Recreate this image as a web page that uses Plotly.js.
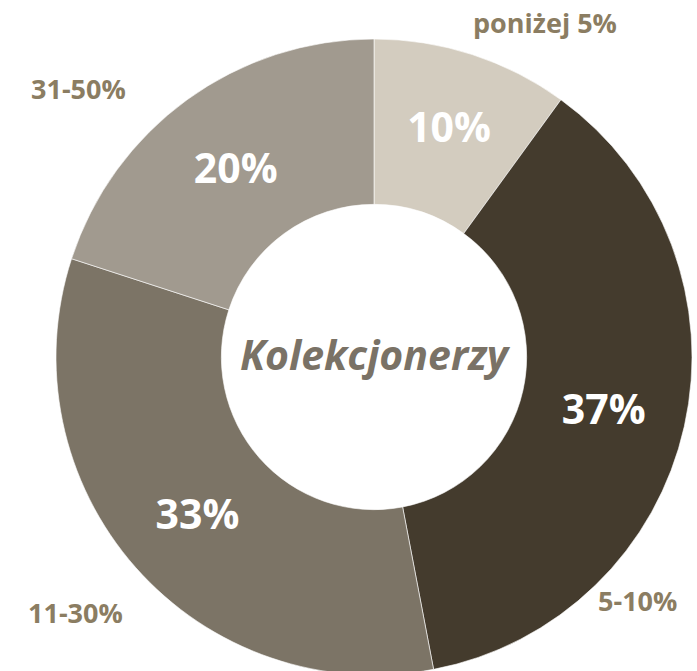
<!DOCTYPE html>
<html>
<head>
<meta charset="utf-8">
<script src="https://cdn.plot.ly/plotly-3.0.1.min.js"></script>
<style>
html, body { margin: 0; padding: 0; background: #fff; overflow: hidden; }
#chart { width: 697px; height: 690px; }
</style>
</head>
<body>
<div id="chart"></div>
<script>
// Data
var categories = ["poniżej 5%", "5-10%", "11-30%", "31-50%"];
var shares = [10, 37, 33, 20];
var sliceColors = ["#D3CCBF", "#443B2D", "#7C7466", "#A19A8F"];
var centerLabel = "Kolekcjonerzy";

// Layout positions for the outside category labels (paper coords)
var labelPos = [
  {x: 0.782, y: 0.968},
  {x: 0.914, y: 0.130},
  {x: 0.109, y: 0.113},
  {x: 0.112, y: 0.872}
];

var W = 697, H = 690;
var trace = {
  type: "pie",
  labels: categories,
  values: shares,
  sort: false,
  direction: "clockwise",
  rotation: 0,
  hole: 0.48,
  marker: { colors: sliceColors, line: { color: "rgba(255,255,255,0.6)", width: 1 } },
  texttemplate: "%{value}%",
  textposition: "inside",
  insidetextorientation: "horizontal",
  insidetextfont: { family: "Open Sans", size: 41, color: "#ffffff", weight: "bold" },
  title: {
    text: centerLabel,
    position: "middle center",
    font: { family: "Open Sans", size: 41, color: "#7A7266", weight: "bold", style: "italic" }
  },
  domain: { x: [56 / W, 692 / W], y: [(H - 675) / H, (H - 39) / H] },
  showlegend: false,
  hoverinfo: "label+value"
};

var annotations = categories.map(function (c, i) {
  return {
    text: c,
    xref: "paper", yref: "paper",
    x: labelPos[i].x, y: labelPos[i].y,
    xanchor: "center", yanchor: "middle",
    showarrow: false,
    font: { family: "Open Sans", size: 27, color: "#8B7D62", weight: "bold" }
  };
});

var layout = {
  width: W, height: H,
  margin: { l: 0, r: 0, t: 0, b: 0 },
  paper_bgcolor: "#ffffff",
  showlegend: false,
  annotations: annotations
};

Plotly.newPlot("chart", [trace], layout, { displayModeBar: false, staticPlot: true });
</script>
</body>
</html>
